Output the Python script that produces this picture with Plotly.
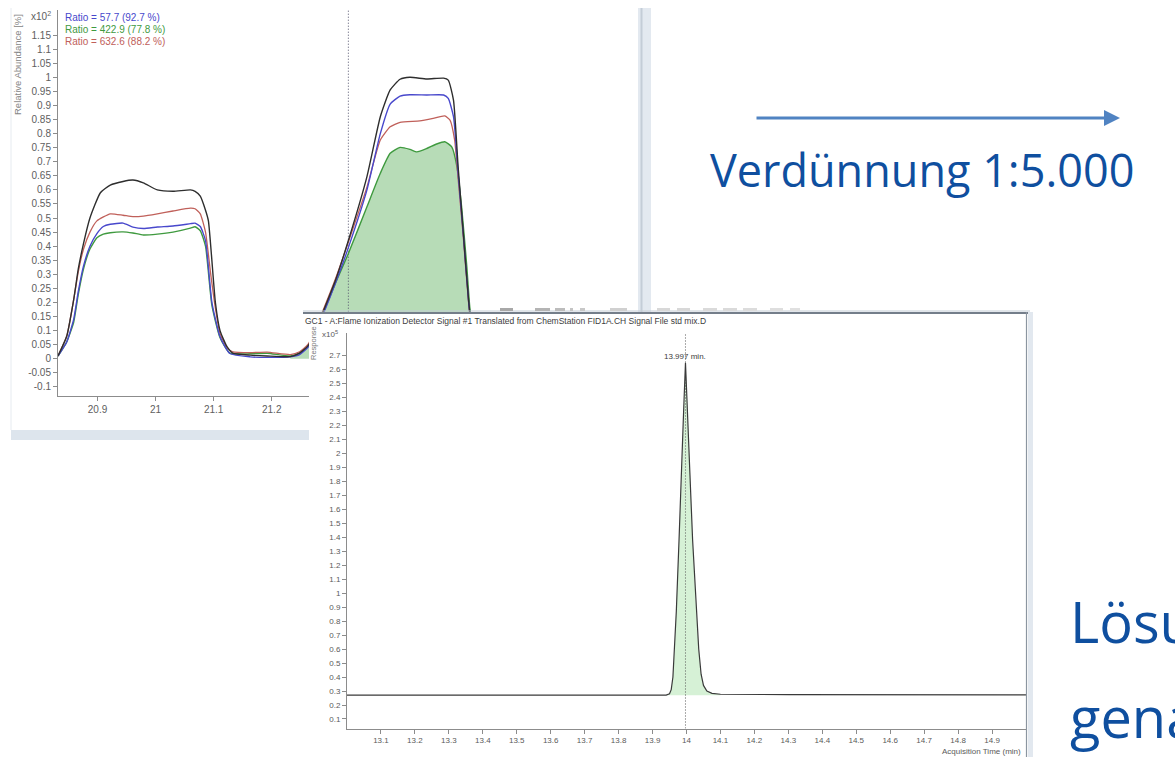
import plotly.graph_objects as go

W, H = 1175, 757

# ---------------- Chart 1 (upper left): qualifier ion traces ----------------
c1_t_black = [20.832, 20.847, 20.859, 20.867, 20.876, 20.887, 20.905, 20.922, 20.944, 20.961,
              20.979, 21.003, 21.030, 21.060, 21.068, 21.077, 21.086, 21.091, 21.103, 21.111,
              21.123, 21.133, 21.163, 21.192, 21.232, 21.248, 21.262, 21.270, 21.289, 21.310,
              21.332, 21.364, 21.387, 21.404, 21.421, 21.438, 21.467, 21.496, 21.504, 21.513,
              21.521, 21.530, 21.539, 21.548, 21.560, 21.829]
c1_black = [0.010, 0.080, 0.210, 0.320, 0.410, 0.500, 0.590, 0.617, 0.630, 0.635,
            0.625, 0.600, 0.595, 0.600, 0.595, 0.578, 0.528, 0.490, 0.200, 0.100,
            0.043, 0.020, 0.013, 0.010, 0.008, 0.020, 0.045, 0.075, 0.170, 0.280,
            0.420, 0.647, 0.860, 0.955, 0.993, 1.000, 0.994, 0.997, 0.990, 0.919,
            0.682, 0.445, 0.209, 0.050, 0.010, 0.010]

c1_t_red = [20.832, 20.847, 20.859, 20.867, 20.876, 20.887, 20.899, 20.922, 20.944, 20.961,
            20.979, 21.003, 21.030, 21.060, 21.068, 21.077, 21.086, 21.095, 21.103, 21.111,
            21.123, 21.133, 21.163, 21.192, 21.232, 21.248, 21.262, 21.270, 21.289, 21.310,
            21.332, 21.364, 21.387, 21.404, 21.421, 21.455, 21.478, 21.498, 21.507, 21.515,
            21.521, 21.530, 21.539, 21.548, 21.560, 21.829]
c1_red = [0.010, 0.080, 0.210, 0.310, 0.390, 0.450, 0.490, 0.515, 0.510, 0.505,
          0.507, 0.515, 0.525, 0.535, 0.533, 0.515, 0.450, 0.300, 0.180, 0.090,
          0.040, 0.025, 0.022, 0.024, 0.015, 0.025, 0.050, 0.080, 0.175, 0.285,
          0.415, 0.610, 0.777, 0.824, 0.840, 0.845, 0.854, 0.863, 0.848, 0.777,
          0.640, 0.430, 0.200, 0.050, 0.020, 0.020]

c1_t_blue = [20.832, 20.847, 20.859, 20.867, 20.876, 20.887, 20.899, 20.910, 20.922, 20.944,
             20.961, 20.979, 21.003, 21.030, 21.060, 21.068, 21.077, 21.086, 21.097, 21.111,
             21.128, 21.163, 21.192, 21.232, 21.248, 21.262, 21.270, 21.289, 21.310, 21.332,
             21.364, 21.387, 21.404, 21.421, 21.438, 21.467, 21.496, 21.504, 21.513, 21.521,
             21.530, 21.539, 21.548, 21.560, 21.829]
c1_blue = [0.010, 0.060, 0.140, 0.240, 0.330, 0.400, 0.445, 0.470, 0.478, 0.482,
           0.468, 0.463, 0.468, 0.472, 0.480, 0.482, 0.470, 0.420, 0.200, 0.078,
           0.019, 0.007, 0.005, 0.007, 0.015, 0.040, 0.070, 0.160, 0.270, 0.395,
           0.600, 0.800, 0.905, 0.933, 0.938, 0.937, 0.937, 0.925, 0.860, 0.660,
           0.440, 0.205, 0.050, 0.010, 0.010]

c1_t_green = [20.832, 20.847, 20.859, 20.867, 20.876, 20.887, 20.899, 20.910, 20.922, 20.944,
              20.961, 20.979, 21.003, 21.030, 21.060, 21.068, 21.077, 21.086, 21.097, 21.111,
              21.128, 21.163, 21.192, 21.232, 21.248, 21.262, 21.270, 21.292, 21.310, 21.332,
              21.364, 21.387, 21.404, 21.421, 21.438, 21.450, 21.467, 21.484, 21.498, 21.510,
              21.519, 21.527, 21.536, 21.541, 21.550, 21.560, 21.829]
c1_green = [0.010, 0.060, 0.130, 0.230, 0.320, 0.390, 0.430, 0.443, 0.448, 0.451,
            0.447, 0.440, 0.443, 0.450, 0.464, 0.469, 0.455, 0.400, 0.190, 0.075,
            0.020, 0.018, 0.020, 0.010, 0.020, 0.045, 0.075, 0.180, 0.270, 0.374,
            0.540, 0.659, 0.730, 0.751, 0.744, 0.735, 0.747, 0.763, 0.771, 0.753,
            0.682, 0.540, 0.327, 0.185, 0.050, 0.010, 0.010]

c1_fill_start = 21.232          # integrated region of the qualifier peak
c1_marker_time = 21.332         # dotted cursor line
c1_legend = ["Ratio = 57.7 (92.7 %)", "Ratio = 422.9 (77.8 %)", "Ratio = 632.6 (88.2 %)"]
c1_xticks = [20.9, 21.0, 21.1, 21.2]
c1_xtick_text = ["20.9", "21", "21.1", "21.2"]
c1_yticks = [-0.1, -0.05, 0, 0.05, 0.1, 0.15, 0.2, 0.25, 0.3, 0.35, 0.4, 0.45, 0.5, 0.55,
             0.6, 0.65, 0.7, 0.75, 0.8, 0.85, 0.9, 0.95, 1.0, 1.05, 1.1, 1.15]
c1_ytick_text = ["-0.1", "-0.05", "0", "0.05", "0.1", "0.15", "0.2", "0.25", "0.3", "0.35",
                 "0.4", "0.45", "0.5", "0.55", "0.6", "0.65", "0.7", "0.75", "0.8", "0.85",
                 "0.9", "0.95", "1", "1.05", "1.1", "1.15"]
c1_xrange = [20.832, 21.829]
c1_yrange = [-0.131, 1.239]

# ---------------- Chart 2 (front): FID chromatogram ----------------
c2_time = [13.000, 13.500, 13.940, 13.950, 13.955, 13.960, 13.965, 13.970, 13.978, 13.986,
           13.992, 13.997, 14.003, 14.010, 14.018, 14.028, 14.036, 14.043, 14.050, 14.060,
           14.075, 14.100, 14.300, 15.000]
c2_resp = [0.270, 0.270, 0.271, 0.280, 0.310, 0.400, 0.600, 0.870, 1.380, 1.857,
           2.333, 2.648, 2.333, 1.857, 1.380, 0.903, 0.600, 0.420, 0.340, 0.300,
           0.283, 0.277, 0.274, 0.273]
c2_baseline = 0.27
c2_peak_time = 13.997
c2_peak_label = "13.997 min."
c2_xticks = [13.1, 13.2, 13.3, 13.4, 13.5, 13.6, 13.7, 13.8, 13.9, 14.0,
             14.1, 14.2, 14.3, 14.4, 14.5, 14.6, 14.7, 14.8, 14.9]
c2_xtick_text = ["13.1", "13.2", "13.3", "13.4", "13.5", "13.6", "13.7", "13.8", "13.9", "14",
                 "14.1", "14.2", "14.3", "14.4", "14.5", "14.6", "14.7", "14.8", "14.9"]
c2_yticks = [0.1, 0.2, 0.3, 0.4, 0.5, 0.6, 0.7, 0.8, 0.9, 1.0, 1.1, 1.2, 1.3, 1.4,
             1.5, 1.6, 1.7, 1.8, 1.9, 2.0, 2.1, 2.2, 2.3, 2.4, 2.5, 2.6, 2.7]
c2_ytick_text = ["0.1", "0.2", "0.3", "0.4", "0.5", "0.6", "0.7", "0.8", "0.9", "1",
                 "1.1", "1.2", "1.3", "1.4", "1.5", "1.6", "1.7", "1.8", "1.9", "2",
                 "2.1", "2.2", "2.3", "2.4", "2.5", "2.6", "2.7"]
c2_xrange = [13.0, 15.0]
c2_yrange = [0.032, 2.86]
c2_title = "GC1 - A:Flame Ionization Detector Signal #1 Translated from ChemStation FID1A.CH Signal File std mix.D"

# ---------------- slide text ----------------
slide_dilution = "Verdünnung 1:5.000"
slide_word1 = "Lösung"
slide_word2 = "genau"

# ---------------- helpers ----------------
def px(p):
    return p / W


def py(p):
    return 1 - p / H


CH_FONT = "Liberation Sans"
SLIDE_FONT = "Open Sans"
BLUE_TXT = "#0f4f9f"

col_black = "#2e2e2e"
col_blue = "#4848cc"
col_red = "#c0605a"
col_green = "#3f9a3f"

fig = go.Figure()

# chart 1 traces
fill_t = [t for t in c1_t_green if t >= c1_fill_start]
fill_v = [v for t, v in zip(c1_t_green, c1_green) if t >= c1_fill_start]
fig.add_trace(go.Scatter(x=fill_t, y=fill_v, fill="tozeroy", fillcolor="#b7dcb7",
                         mode="lines", line=dict(width=0, shape="spline", smoothing=0.5),
                         xaxis="x", yaxis="y", hoverinfo="skip"))
fig.add_trace(go.Scatter(x=[c1_marker_time, c1_marker_time], y=c1_yrange, mode="lines",
                         line=dict(color="#50506a", width=1, dash="1px,2px"), xaxis="x", yaxis="y"))
for tt, vv, cc, ww in [(c1_t_green, c1_green, col_green, 1.4),
                       (c1_t_red, c1_red, col_red, 1.3),
                       (c1_t_blue, c1_blue, col_blue, 1.4),
                       (c1_t_black, c1_black, col_black, 1.4)]:
    fig.add_trace(go.Scatter(x=tt, y=vv, mode="lines",
                             line=dict(color=cc, width=ww, shape="spline", smoothing=0.5),
                             xaxis="x", yaxis="y"))

# panel (white background for chart 2 window) - empty subplot
fig.add_trace(go.Scatter(x=[], y=[], xaxis="x2", yaxis="y2", mode="lines"))

# chart 2 traces
pk_t = [t for t in c2_time if 13.94 <= t <= 14.1]
pk_v = [v for t, v in zip(c2_time, c2_resp) if 13.94 <= t <= 14.1]
fig.add_trace(go.Scatter(x=pk_t, y=[c2_baseline] * len(pk_t), mode="lines",
                         line=dict(width=0), xaxis="x3", yaxis="y3", hoverinfo="skip"))
fig.add_trace(go.Scatter(x=pk_t, y=pk_v, mode="lines", fill="tonexty", fillcolor="#d6f1d6",
                         line=dict(width=0), xaxis="x3", yaxis="y3", hoverinfo="skip"))
fig.add_trace(go.Scatter(x=[c2_peak_time, c2_peak_time], y=c2_yrange, mode="lines",
                         line=dict(color="#555", width=1, dash="1px,2px"), xaxis="x3", yaxis="y3"))
fig.add_trace(go.Scatter(x=c2_time, y=c2_resp, mode="lines",
                         line=dict(color="#3a3a3a", width=1.2),
                         xaxis="x3", yaxis="y3"))

ax_common = dict(showgrid=False, zeroline=False, showline=True, linecolor="#8c8c8c",
                 linewidth=1, ticks="outside", ticklen=4, tickcolor="#8c8c8c", fixedrange=True)

fig.update_layout(
    width=W, height=H, margin=dict(l=0, r=0, t=0, b=0),
    paper_bgcolor="white", plot_bgcolor="white", showlegend=False,
    xaxis=dict(domain=[px(58), px(637)], range=c1_xrange, anchor="y",
               tickvals=c1_xticks, ticktext=c1_xtick_text,
               tickfont=dict(family=CH_FONT, size=10, color="#606060"), **ax_common),
    yaxis=dict(domain=[py(395.7), py(10)], range=c1_yrange, anchor="x",
               tickvals=c1_yticks, ticktext=c1_ytick_text,
               tickfont=dict(family=CH_FONT, size=10, color="#606060"), **ax_common),
    xaxis2=dict(domain=[px(309), px(1030)], range=[0, 1], anchor="y2", showgrid=False,
                zeroline=False, showline=False, showticklabels=False, ticks="", fixedrange=True),
    yaxis2=dict(domain=[0, py(312)], range=[0, 1], anchor="x2", showgrid=False,
                zeroline=False, showline=False, showticklabels=False, ticks="", fixedrange=True),
    xaxis3=dict(domain=[px(347), px(1026)], range=c2_xrange, anchor="y3",
                tickvals=c2_xticks, ticktext=c2_xtick_text,
                tickfont=dict(family=CH_FONT, size=8, color="#5a5a5a"), **ax_common),
    yaxis3=dict(domain=[py(728.5), py(333)], range=c2_yrange, anchor="x3",
                tickvals=c2_yticks, ticktext=c2_ytick_text,
                tickfont=dict(family=CH_FONT, size=8, color="#5a5a5a"), **ax_common),
)

shapes = [
    # chart 1 window: right scroll bar and bottom bar, faint left border
    dict(type="rect", xref="paper", yref="paper", x0=px(638), x1=px(651), y0=py(312), y1=py(8),
         fillcolor="#e3e9f0", line=dict(width=0), layer="below"),
    dict(type="line", xref="paper", yref="paper", x0=px(641.5), x1=px(641.5), y0=py(312), y1=py(8),
         line=dict(color="#c4cdd7", width=2), layer="below"),
    dict(type="rect", xref="paper", yref="paper", x0=px(11), x1=px(309), y0=py(440), y1=py(430),
         fillcolor="#dde5ed", line=dict(width=0), layer="below"),
    dict(type="line", xref="paper", yref="paper", x0=px(11), x1=px(11), y0=py(430), y1=py(8),
         line=dict(color="#e6ebf0", width=1), layer="below"),
    # chart 2 window borders
    dict(type="line", xref="paper", yref="paper", x0=px(303), x1=px(1030), y0=py(311), y1=py(311),
         line=dict(color="#c3ccd5", width=1), layer="above"),
    dict(type="line", xref="paper", yref="paper", x0=px(303), x1=px(1030), y0=py(313), y1=py(313),
         line=dict(color="#747e8a", width=2), layer="above"),
    dict(type="line", xref="paper", yref="paper", x0=px(1026.5), x1=px(1026.5), y0=0, y1=py(312),
         line=dict(color="#8b95a0", width=1.2), layer="above"),
    dict(type="rect", xref="paper", yref="paper", x0=px(1028), x1=px(1033), y0=0, y1=py(312),
         fillcolor="#e2e8ef", line=dict(width=0), layer="above"),
]
# blurred remnants of a hidden window row just above the chart 2 title bar
for x0, x1, c in [(500, 513, "#a8a8a8"), (535, 550, "#b4b4b4"), (555, 565, "#bcbcbc"),
                  (570, 573, "#c4c4c4"), (580, 585, "#c8c8c8"), (610, 627, "#d0d0d0"),
                  (657, 670, "#d8d8d8"), (677, 690, "#d8d8d8"), (703, 717, "#dadada"),
                  (723, 737, "#dadada"), (743, 757, "#dcdcdc"), (770, 783, "#dedede"),
                  (790, 800, "#e0e0e0")]:
    shapes.append(dict(type="rect", xref="paper", yref="paper", x0=px(x0), x1=px(x1),
                       y0=py(311), y1=py(308), fillcolor=c, line=dict(width=0), layer="above"))
fig.update_layout(shapes=shapes)

ann = []
# chart 1 texts
ann.append(dict(text="x10<sup>2</sup>", x=px(29), y=py(16), xref="paper", yref="paper",
                xanchor="left", yanchor="middle", showarrow=False,
                font=dict(family=CH_FONT, size=10, color="#606060")))
ann.append(dict(text="Relative Abundance [%]", x=px(17), y=py(65), xref="paper", yref="paper",
                textangle=-90, xanchor="center", yanchor="middle", showarrow=False,
                font=dict(family=CH_FONT, size=9.5, color="#858585")))
for i, (txt, cc) in enumerate(zip(c1_legend, [col_blue, col_green, col_red])):
    ann.append(dict(text=txt, x=px(63), y=py(17.3 + 12.2 * i), xref="paper", yref="paper",
                    xanchor="left", yanchor="middle", showarrow=False,
                    font=dict(family=CH_FONT, size=10, color=cc)))
# chart 2 texts
ann.append(dict(text=c2_title, x=px(303), y=py(321.5), xref="paper", yref="paper",
                xanchor="left", yanchor="middle", showarrow=False,
                font=dict(family=CH_FONT, size=8.5, color="#3c3c3c")))
ann.append(dict(text="x10<sup>5</sup>", x=px(320), y=py(334), xref="paper", yref="paper",
                xanchor="left", yanchor="middle", showarrow=False,
                font=dict(family=CH_FONT, size=8, color="#5a5a5a")))
ann.append(dict(text="Response", x=px(313), y=py(343), xref="paper", yref="paper",
                textangle=-90, xanchor="center", yanchor="middle", showarrow=False,
                font=dict(family=CH_FONT, size=7.5, color="#7a7a7a")))
ann.append(dict(text=c2_peak_label, x=c2_peak_time, y=py(356), xref="x3", yref="paper",
                xanchor="center", yanchor="middle", showarrow=False,
                font=dict(family=CH_FONT, size=8, color="#3c3c3c")))
ann.append(dict(text="Acquisition Time (min)", x=px(1023), y=py(751), xref="paper", yref="paper",
                xanchor="right", yanchor="middle", showarrow=False,
                font=dict(family=CH_FONT, size=8, color="#5a5a5a")))
# slide arrow and text
ann.append(dict(text="", x=px(1120), y=py(118), xref="paper", yref="paper",
                ax=-365, ay=0, showarrow=True, arrowhead=2, arrowsize=1, arrowwidth=3.2,
                arrowcolor="#5083c2", standoff=0))
ann.append(dict(text=slide_dilution, x=px(708), y=py(169), xref="paper", yref="paper",
                xanchor="left", yanchor="middle", showarrow=False,
                font=dict(family=SLIDE_FONT, size=45, color=BLUE_TXT)))
ann.append(dict(text=slide_word1, x=px(1068), y=py(621), xref="paper", yref="paper",
                xanchor="left", yanchor="middle", showarrow=False,
                font=dict(family=SLIDE_FONT, size=56, color=BLUE_TXT)))
ann.append(dict(text=slide_word2, x=px(1068), y=py(716), xref="paper", yref="paper",
                xanchor="left", yanchor="middle", showarrow=False,
                font=dict(family=SLIDE_FONT, size=56, color=BLUE_TXT)))
fig.update_layout(annotations=ann)

fig.write_html("out.html", config={"displayModeBar": False})
